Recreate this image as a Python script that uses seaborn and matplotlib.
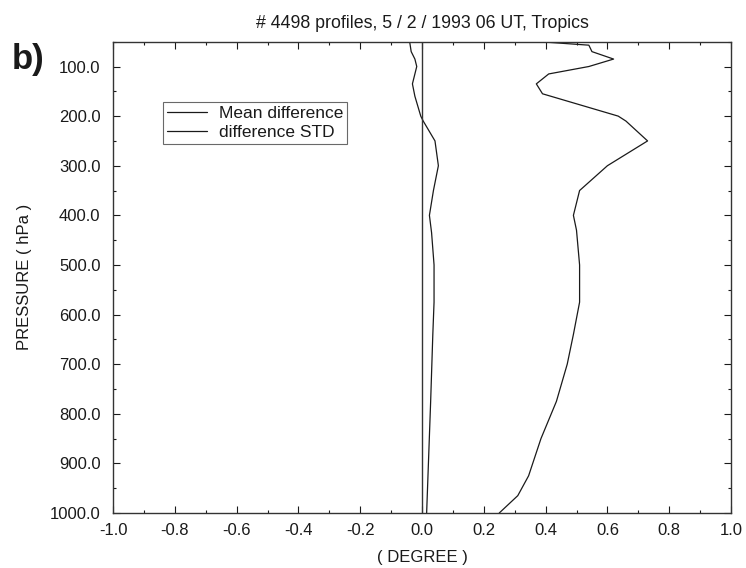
import matplotlib
matplotlib.use("Agg")
import matplotlib.pyplot as plt
import seaborn as sns
import numpy as np
import pandas as pd
from matplotlib.ticker import MultipleLocator, FormatStrFormatter

# ---- data ----
p_std = [50, 57, 70, 85, 100, 115, 135, 155, 200, 210, 250, 300, 350, 400,
         430, 500, 575, 640, 700, 775, 850, 925, 965, 1000]
std_vals = [0.38, 0.54, 0.55, 0.62, 0.54, 0.41, 0.37, 0.39, 0.635, 0.66, 0.73,
            0.60, 0.51, 0.49, 0.50, 0.51, 0.51, 0.49, 0.47, 0.435, 0.385,
            0.345, 0.31, 0.25]
p_mean = [50, 70, 85, 100, 115, 135, 160, 200, 210, 250, 300, 350, 400, 435,
          500, 575, 640, 775, 1000]
mean_vals = [-0.04, -0.035, -0.023, -0.017, -0.023, -0.031, -0.023, -0.004,
             0.004, 0.042, 0.053, 0.037, 0.024, 0.031, 0.039, 0.039, 0.035,
             0.028, 0.015]
zero_p = [50, 1000]
zero_x = [0.0, 0.0]
series_labels = ["Mean difference", "difference STD"]
y_ticks = [100, 200, 300, 400, 500, 600, 700, 800, 900, 1000]
x_ticks = [-1.0, -0.8, -0.6, -0.4, -0.2, 0.0, 0.2, 0.4, 0.6, 0.8, 1.0]
title = "# 4498 profiles, 5 / 2 / 1993 06 UT, Tropics"

sns.set_theme(style="ticks")
plt.rcParams["font.family"] = ["Liberation Sans", "DejaVu Sans"]

W, H = 746, 568
fig = plt.figure(figsize=(W / 100, H / 100), dpi=100)
L, R, T, B = 113, 731, 41.7, 513
ax = fig.add_axes([L / W, 1 - B / H, (R - L) / W, (B - T) / H])

ink = "#1a1a1a"
df_mean = pd.DataFrame({"x": mean_vals, "p": p_mean})
df_std = pd.DataFrame({"x": std_vals, "p": p_std})
sns.lineplot(data=df_mean, x="x", y="p", orient="y", sort=False, estimator=None,
             color=ink, lw=0.9, ax=ax, label=series_labels[0])
sns.lineplot(data=df_std, x="x", y="p", orient="y", sort=False, estimator=None,
             color=ink, lw=0.9, ax=ax, label=series_labels[1])
sns.lineplot(x=zero_x, y=zero_p, orient="y", sort=False, estimator=None,
             color="#333333", lw=1.0, ax=ax)

ax.set_xlim(-1.0, 1.0)
ax.set_ylim(1000, 50)
ax.set_xticks(x_ticks)
ax.set_yticks(y_ticks)
ax.xaxis.set_minor_locator(MultipleLocator(0.1))
ax.yaxis.set_minor_locator(MultipleLocator(50))
ax.xaxis.set_major_formatter(FormatStrFormatter("%.1f"))
ax.yaxis.set_major_formatter(FormatStrFormatter("%.1f"))
ax.tick_params(which="both", direction="in", top=True, right=True,
               colors=ink, labelcolor=ink, width=0.8)
ax.tick_params(which="major", length=5, labelsize=12)
ax.tick_params(axis="y", which="major", pad=9)
ax.tick_params(axis="x", which="major", pad=7)
ax.tick_params(which="minor", length=2.5)
for s in ax.spines.values():
    s.set_linewidth(1.0)
    s.set_color("#333333")

ax.set_xlabel("( DEGREE )", fontsize=12, color=ink, labelpad=9)
ax.set_ylabel("PRESSURE ( hPa )", fontsize=12, color=ink, labelpad=13)
ax.set_title(title, fontsize=12.8, color=ink, pad=10)

leg = ax.legend(loc="upper left", bbox_to_anchor=(0.081, 0.872),
                borderaxespad=0, frameon=True, fancybox=False,
                fontsize=12.5, handlelength=2.3, handletextpad=0.7,
                labelspacing=0.25, borderpad=0.22)
leg.get_frame().set_edgecolor("#444444")
leg.get_frame().set_linewidth(0.8)
for t in leg.get_texts():
    t.set_color(ink)

fig.text(12 / W, 1 - 59 / H, "b)", fontsize=25, fontweight="bold",
         color=ink, va="center", ha="left")

fig.savefig("out.png", dpi=100, facecolor="white")
